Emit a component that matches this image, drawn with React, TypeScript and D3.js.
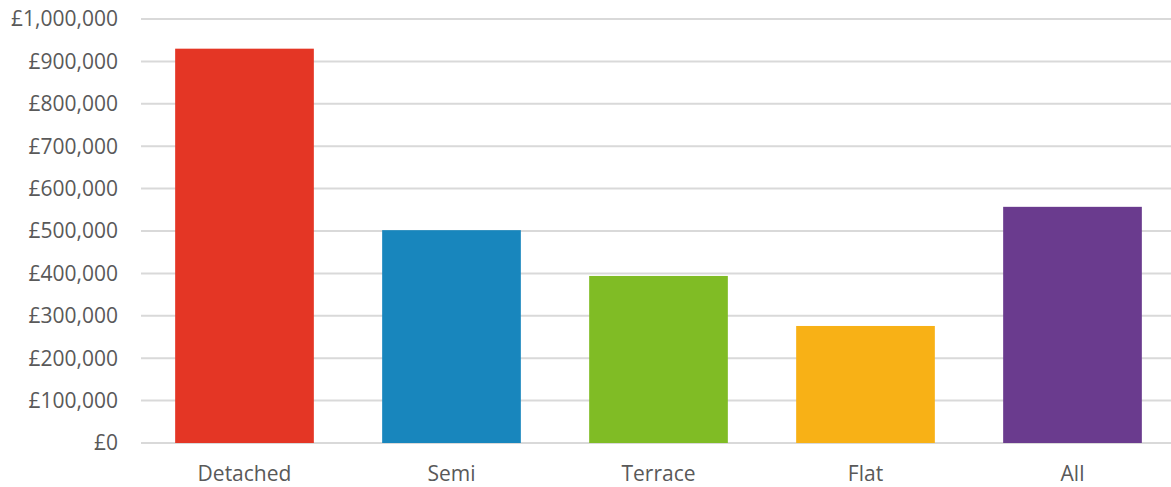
import React from "react";
import * as d3 from "d3";

const categories = ["Detached", "Semi", "Terrace", "Flat", "All"];
const values = [930000, 502000, 394000, 276000, 557000];
const colors = ["#E43625", "#1886BD", "#80BC25", "#F8B116", "#6A3B8E"];
const yTicks = [0, 100000, 200000, 300000, 400000, 500000, 600000, 700000, 800000, 900000, 1000000];

export default function App() {
  const W = 1171, H = 487;
  const x = d3.scaleBand<string>().domain(categories).range([141, 1176]).paddingInner(0.33).paddingOuter(0.165);
  const y = d3.scaleLinear().domain([0, 1000000]).range([443, 19]);
  const fmt = (v: number) => "£" + d3.format(",")(v);
  return (
    <svg width={W} height={H} style={{ position: "absolute", left: 0, top: 0 }} fontFamily="'Open Sans', sans-serif">
      <rect width={W} height={H} fill="#fff" />
      {yTicks.map((t) => (
        <g key={t}>
          <line x1={141} x2={1176} y1={y(t)} y2={y(t)} stroke="#d9d9d9" strokeWidth={2} />
          <text x={118} y={y(t)} dy="0.35em" textAnchor="end" fontSize={21} fill="#595959">{fmt(t)}</text>
        </g>
      ))}
      {categories.map((c, i) => (
        <rect key={c} x={x(c)} width={x.bandwidth()} y={y(values[i])} height={y(0) - y(values[i])} fill={colors[i]} />
      ))}
      {categories.map((c) => (
        <text key={c} x={(x(c) as number) + x.bandwidth() / 2} y={481} textAnchor="middle" fontSize={21} fill="#595959">{c}</text>
      ))}
    </svg>
  );
}
